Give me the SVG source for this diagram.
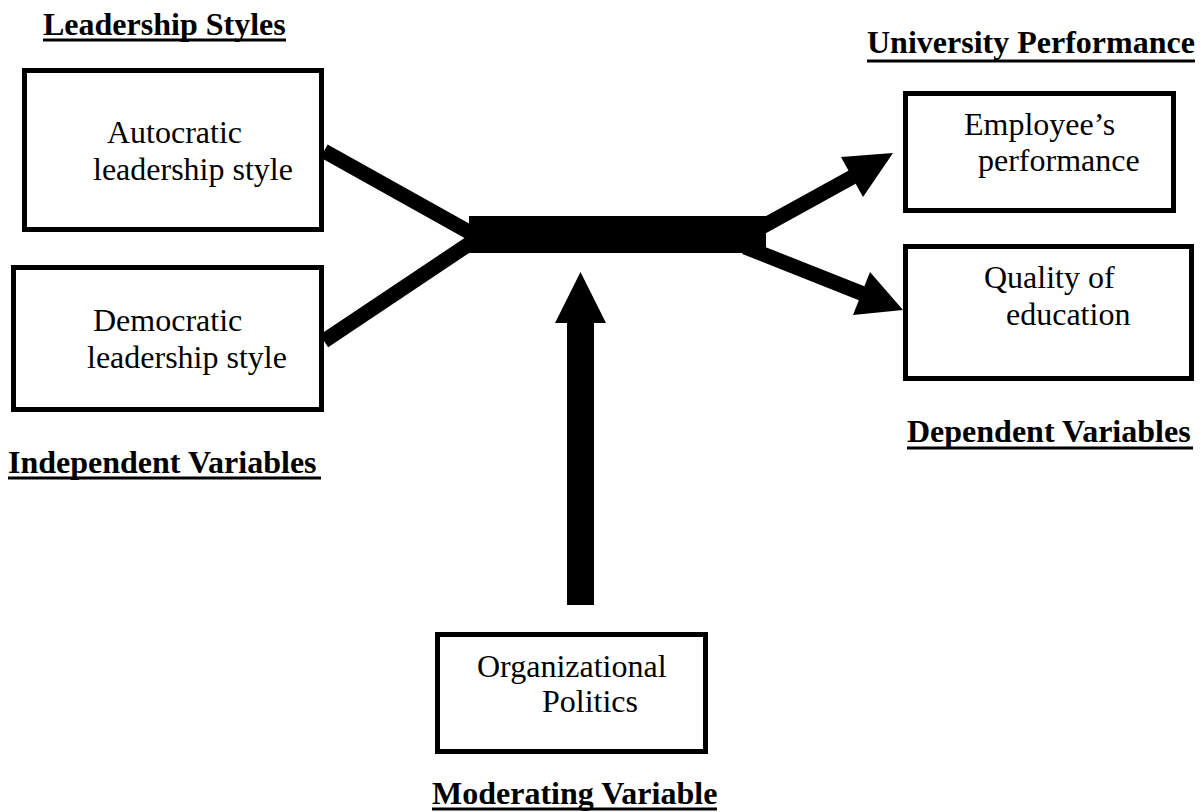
<svg xmlns="http://www.w3.org/2000/svg" width="1201" height="812" viewBox="0 0 1201 812">
<style>
.box{fill:#fff;stroke:#000;stroke-width:5}
.t{font-family:"Liberation Serif","Times New Roman",serif;font-size:32px;fill:#000}
.h{font-family:"Liberation Serif","Times New Roman",serif;font-size:32px;font-weight:bold;fill:#000}
.ul{stroke:#000;stroke-width:3}
.c{fill:#000;stroke:none}
.cl{stroke:#000;stroke-width:15;fill:none}
</style>
<rect width="1201" height="812" fill="#fff"/>
<g id="connectors">
<line class="cl" x1="324" y1="151" x2="478" y2="237"/>
<line class="cl" x1="324" y1="341" x2="478" y2="238"/>
<rect class="c" x="469" y="216" width="297" height="37"/>
<line class="cl" x1="760" y1="228" x2="856" y2="175"/>
<polygon class="c" points="841,157 893,153 863,197"/>
<line class="cl" x1="745" y1="247" x2="866" y2="295"/>
<polygon class="c" points="870,272 903,310 853,315"/>
<rect class="c" x="567" y="320" width="27" height="285"/>
<polygon class="c" points="555,323 580.5,272 606,323"/>
</g>
<g id="label-leadership">
<text class="h" x="43" y="35">Leadership Styles</text>
<line class="ul" x1="43" y1="40" x2="286" y2="40"/>
</g>
<g id="label-university">
<text class="h" x="867" y="53">University Performance</text>
<line class="ul" x1="867" y1="61" x2="1195" y2="61"/>
</g>
<g id="node-autocratic">
<rect class="box" x="24.5" y="70.5" width="297" height="159"/>
<text class="t" x="107" y="143">Autocratic</text>
<text class="t" x="93" y="180">leadership style</text>
</g>
<g id="node-democratic">
<rect class="box" x="13.5" y="267.5" width="308" height="142"/>
<text class="t" x="93" y="331">Democratic</text>
<text class="t" x="87" y="368">leadership style</text>
</g>
<g id="label-independent">
<text class="h" x="8" y="473">Independent Variables</text>
<line class="ul" x1="8" y1="478" x2="321" y2="478"/>
</g>
<g id="node-employee">
<rect class="box" x="905.5" y="93.5" width="268" height="117"/>
<text class="t" x="964" y="135">Employee’s</text>
<text class="t" x="978" y="171">performance</text>
</g>
<g id="node-quality">
<rect class="box" x="905.5" y="246.5" width="286" height="132"/>
<text class="t" x="984" y="288">Quality of</text>
<text class="t" x="1006" y="325">education</text>
</g>
<g id="label-dependent">
<text class="h" x="907" y="442">Dependent Variables</text>
<line class="ul" x1="907" y1="448" x2="1193" y2="448"/>
</g>
<g id="node-organizational">
<rect class="box" x="437.5" y="634.5" width="268" height="117"/>
<text class="t" x="477" y="677">Organizational</text>
<text class="t" x="542" y="712">Politics</text>
</g>
<g id="label-moderating">
<text class="h" x="432" y="804">Moderating Variable</text>
<line class="ul" x1="432" y1="809" x2="717" y2="809"/>
</g>
</svg>
